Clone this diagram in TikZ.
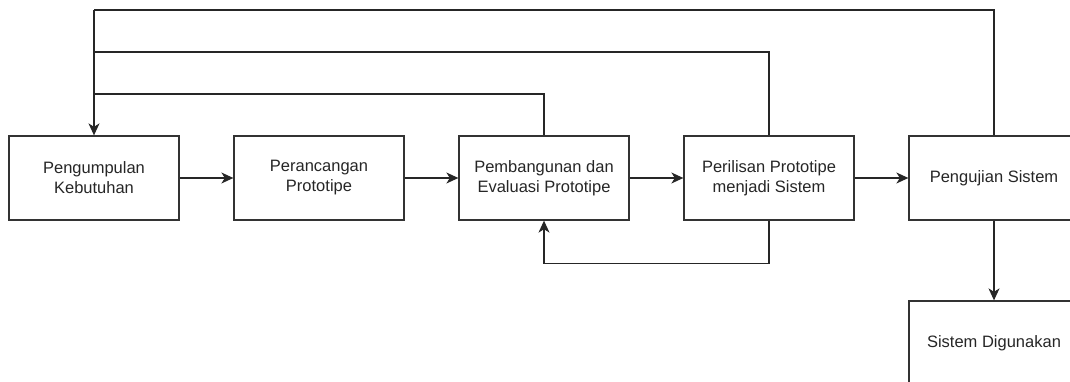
\documentclass[tikz,border=0pt]{standalone}
\usepackage{fontspec}
\setmainfont{Liberation Sans}
\usetikzlibrary{arrows.meta}
\begin{document}
\begin{tikzpicture}[x=1pt,y=1pt,
  box/.style={draw=black!80, line width=1.3pt, minimum width=170pt, minimum height=84pt,
    inner sep=2pt, align=center, text=black!85,
    font=\fontsize{16.5}{20}\selectfont},
  conn/.style={line width=1.3pt, draw=black!85},
  arr/.style={conn, -{Stealth[length=12pt,width=11pt,inset=3.5pt]}}]
\useasboundingbox (0,0) rectangle (1070,-382);
\node[box] (b1) at (94,-178) {Pengumpulan\\Kebutuhan};
\node[box] (b2) at (319,-178) {Perancangan\\Prototipe};
\node[box] (b3) at (544,-178) {Pembangunan dan\\Evaluasi Prototipe};
\node[box] (b4) at (769,-178) {Perilisan Prototipe\\menjadi Sistem};
\node[box] (b5) at (994,-178) {Pengujian Sistem};
\node[box] (b6) at (994,-343) {Sistem Digunakan};
\coordinate (top3) at (94,-94);
\coordinate (top4) at (94,-52);
\coordinate (top5) at (94,-10);
\draw[arr] (b1) -- (b2);
\draw[arr] (b2) -- (b3);
\draw[arr] (b3) -- (b4);
\draw[arr] (b4) -- (b5);
\draw[arr] (b5) -- (b6);
\draw[conn] (b3.north) |- (top3);
\draw[conn] (b4.north) |- (top4);
\draw[conn] (b5.north) |- (top5);
\draw[arr] (top5) -- (b1.north);
\draw[arr] (b4.south) -- ++(0,-43) -| (b3.south);
\end{tikzpicture}
\end{document}
